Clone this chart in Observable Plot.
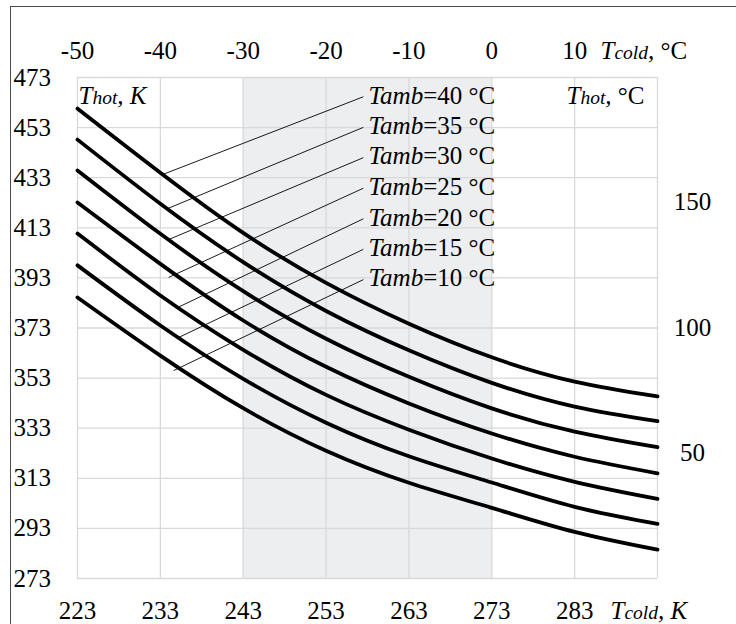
<!DOCTYPE html>
<html>
<head>
<meta charset="utf-8">
<script src="https://cdn.jsdelivr.net/npm/d3@7"></script>
<script src="https://cdn.jsdelivr.net/npm/@observablehq/plot@0.6"></script>
<style>
  html, body { margin: 0; padding: 0; background: white; overflow: hidden; }
  #wrap { position: relative; width: 736px; height: 624px; }
  #border { position: absolute; left: 10px; top: 6px; width: 900px; height: 900px;
            border-left: 1.5px solid #4a4a4a; border-top: 1.5px solid #4a4a4a; pointer-events: none; }
</style>
</head>
<body>
<div id="wrap"><div id="chart"></div><div id="border"></div></div>
<script>
// Cold-side temperature, K (x positions of the readings)
const tcoldK = [223, 233, 243, 253, 263, 273, 283, 293];
// Ambient temperatures of the seven curves, °C
const tambC = [40, 35, 30, 25, 20, 15, 10];
// Hot-side temperature, K, for each Tamb curve
const thot40 = [460.6, 435.0, 411.0, 391.0, 374.7, 361.3, 351.6, 345.7];
const thot35 = [448.2, 422.6, 399.3, 379.8, 364.1, 351.1, 341.6, 335.8];
const thot30 = [435.9, 410.6, 387.7, 368.7, 353.5, 340.9, 331.6, 325.4];
const thot25 = [423.1, 398.6, 376.0, 357.5, 342.9, 330.9, 321.6, 315.0];
const thot20 = [410.7, 386.0, 364.3, 346.3, 332.4, 320.9, 311.6, 304.8];
const thot15 = [398.0, 374.0, 352.7, 335.2, 321.8, 311.3, 301.6, 294.8];
const thot10 = [385.2, 362.0, 341.0, 324.0, 311.2, 301.2, 291.6, 284.5];
const series = [thot40, thot35, thot30, thot25, thot20, thot15, thot10];

// Tick labels
const kTicks = [223, 233, 243, 253, 263, 273, 283];
const kGrid = [223, 233, 243, 253, 263, 273, 283, 293];
const yTicks = [273, 293, 313, 333, 353, 373, 393, 413, 433, 453, 473];
const cTicks = [50, 100, 150];
// Shaded Tcold band, K
const shadeBand = [243, 273];
// Label annotations (data coordinates): label Tcold, label Thot, leader ends
const labelTcold = 258;
const labelThot = [465.8, 453.6, 441.5, 429.3, 417.1, 404.9, 392.8];
const leaderTcold = [233.3, 233.9, 234.0, 234.0, 235.1, 235.2, 234.6];
const leaderThot = [434.3, 420.7, 408.3, 393.2, 381.2, 369.2, 356.0];

const table = [];
series.forEach((vals, i) => vals.forEach((v, j) => table.push({tamb: tambC[i], tcold: tcoldK[j], thot: v})));
const leaders = tambC.map((t, i) => ({
  tamb: t, lx: labelTcold, ly: labelThot[i], ex: leaderTcold[i], ey: leaderThot[i]
}));

const chart = Plot.plot({
  width: 736, height: 624,
  marginLeft: 77, marginRight: 79, marginTop: 77, marginBottom: 46,
  x: {domain: [223, 293], axis: null},
  y: {domain: [273, 473], axis: null},
  style: {fontFamily: "'Liberation Serif', 'Times New Roman', serif", fontSize: "25px", background: "white", color: "black"},
  marks: [
    Plot.rect([shadeBand], {x1: d => d[0], x2: d => d[1], fill: "#edeef0"}),
    Plot.ruleX(kGrid, {stroke: "#d9d9d9", strokeWidth: 1.3}),
    Plot.ruleY(yTicks, {stroke: "#d9d9d9", strokeWidth: 1.3}),
    Plot.link(leaders, {x1: "ex", y1: "ey", x2: d => d.lx - 0.5, y2: d => d.ly - 0.5, stroke: "black", strokeWidth: 0.9}),
    Plot.line(table, {x: "tcold", y: "thot", z: "tamb", stroke: "black", strokeWidth: 3.8, curve: "natural"}),
    Plot.text(leaders, {x: "lx", y: "ly", text: d => `Tamb=${d.tamb} °C`, textAnchor: "start", dx: 1, lineAnchor: "middle"}),
    Plot.text(kTicks, {x: d => d, text: d => String(d), frameAnchor: "bottom", dy: 32, lineAnchor: "middle"}),
    Plot.text(kTicks, {x: d => d, text: d => String(d - 273), frameAnchor: "top", dy: -27, lineAnchor: "middle"}),
    Plot.text(yTicks, {y: d => d, text: d => String(d), frameAnchor: "left", dx: -64, textAnchor: "start", lineAnchor: "middle"}),
    Plot.text(cTicks, {y: d => d + 273.15, text: d => String(d), frameAnchor: "right", dx: 35, textAnchor: "middle", lineAnchor: "middle"}),
    Plot.text(["Tcold, K"], {frameAnchor: "bottom-right", dx: -47, dy: 32, textAnchor: "start", lineAnchor: "middle"}),
    Plot.text(["Tcold, °C"], {frameAnchor: "top-right", dx: -57, dy: -27, textAnchor: "start", lineAnchor: "middle"}),
    Plot.text(["Thot, K"], {frameAnchor: "top-left", dx: 1, dy: 18, textAnchor: "start", lineAnchor: "middle"}),
    Plot.text(["Thot, °C"], {frameAnchor: "top-right", dx: -91, dy: 18, textAnchor: "start", lineAnchor: "middle"})
  ]
});
document.getElementById("chart").appendChild(chart);

// rich text: italics and smaller subscript-like words
const I = s => `<tspan font-style="italic">${s}</tspan>`;
const S = s => `<tspan font-style="italic" font-size="0.78em">${s}</tspan>`;
const R = s => `<tspan>${s}</tspan>`;
const rich = {
  "Tcold, K": I("T") + S("cold") + I(", K"),
  "Tcold, °C": I("T") + S("cold") + I(", ") + R("°C"),
  "Thot, K": I("T") + S("hot") + I(", K"),
  "Thot, °C": I("T") + S("hot") + I(", ") + R("°C")
};
tambC.forEach(t => { rich[`Tamb=${t} °C`] = I("Tamb") + R(`=${t} °C`); });
d3.select(chart).selectAll("text").each(function () {
  const k = this.textContent;
  if (rich[k]) this.innerHTML = rich[k];
});
</script>
</body>
</html>
